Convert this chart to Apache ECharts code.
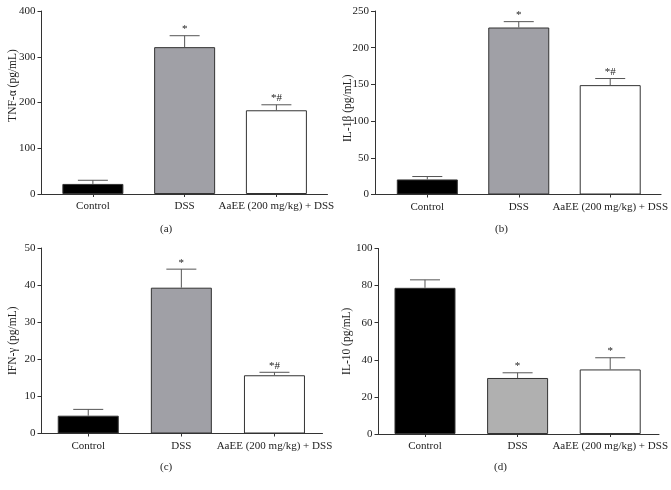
<!DOCTYPE html>
<html>
<head>
<meta charset="utf-8">
<script src="https://cdn.jsdelivr.net/npm/echarts@6/dist/echarts.min.js"></script>
<style>
html,body{margin:0;padding:0;background:#fff;}
#chart{width:671px;height:490px;}
</style>
</head>
<body>
<div id="chart"></div>
<script>
// ---- data ----
var categories = ['Control', 'DSS', 'AaEE (200 mg/kg) + DSS'];
var tnfMean = [22, 321, 183];
var tnfErr = [8, 25, 12];
var tnfMarks = ['', '*', '*#'];
var il1bMean = [20.5, 227.5, 149];
var il1bErr = [4, 8, 9];
var il1bMarks = ['', '*', '*#'];
var ifngMean = [4.8, 39.3, 15.7];
var ifngErr = [1.7, 5.0, 0.8];
var ifngMarks = ['', '*', '*#'];
var il10Mean = [78.8, 30.2, 34.8];
var il10Err = [4.3, 2.8, 6.3];
var il10Marks = ['', '*', '*'];
var yNames = ['TNF-\u03b1 (pg/mL)', 'IL-1\u03b2 (pg/mL)', 'IFN-\u03b3 (pg/mL)', 'IL-10 (pg/mL)'];
var yMax = [400, 250, 50, 100];
var yStep = [100, 50, 10, 20];
var captions = ['(a)', '(b)', '(c)', '(d)'];

// ---- style / layout ----
var FONT = 'Liberation Serif';
var AX = '#333';
var grids = [
  {left: 41.5, top: 11, width: 286, height: 183},
  {left: 375, top: 11, width: 287, height: 183.5},
  {left: 41.5, top: 248, width: 281, height: 185.5},
  {left: 378.5, top: 248.5, width: 282, height: 185.5}
];
var xRange = [[-0.56, 2.557], [-0.572, 2.556], [-0.502, 2.516], [-0.502, 2.527]];
var namePad = [[0, 0, 0, 34], [0, 11, 0, 0], [0, 0, 0, 0], [0, 0, 0, 0]];
var nameGaps = [22.5, 21, 23, 25.5];
var fillColors = [
  ['#000000', '#a0a0a6', '#ffffff'],
  ['#000000', '#a0a0a6', '#ffffff'],
  ['#000000', '#a0a0a6', '#ffffff'],
  ['#000000', '#b0b0b0', '#ffffff']
];
var capPos = [[168, 231], [503, 231], [168, 469], [502, 469]];

var panels = [
  {mean: tnfMean, err: tnfErr, marks: tnfMarks},
  {mean: il1bMean, err: il1bErr, marks: il1bMarks},
  {mean: ifngMean, err: ifngErr, marks: ifngMarks},
  {mean: il10Mean, err: il10Err, marks: il10Marks}
];

var option = {
  animation: false,
  backgroundColor: '#fff',
  grid: grids.map(function (g) { return Object.assign({containLabel: false}, g); }),
  xAxis: [], yAxis: [], series: [], graphic: []
};

panels.forEach(function (p, i) {
  option.xAxis.push({
    type: 'value', gridIndex: i, min: xRange[i][0], max: xRange[i][1],
    axisLine: {show: true, onZero: false, lineStyle: {color: AX, width: 1}},
    axisTick: {show: true, length: 3, inside: false, customValues: [0, 1, 2], lineStyle: {color: AX}},
    axisLabel: {
      show: true, customValues: [0, 1, 2], margin: 7,
      fontFamily: FONT, fontSize: 11, color: '#222',
      formatter: function (v) { return categories[Math.round(v)] || ''; }
    },
    splitLine: {show: false}
  });
  option.yAxis.push({
    type: 'value', gridIndex: i, min: 0, max: yMax[i], interval: yStep[i],
    name: yNames[i], nameLocation: 'middle', nameGap: nameGaps[i], nameMoveOverlap: false,
    nameTextStyle: {fontFamily: FONT, fontSize: 11.5, color: '#222', padding: namePad[i]},
    axisLine: {show: true, onZero: false, lineStyle: {color: AX, width: 1}},
    axisTick: {show: true, length: 4, lineStyle: {color: AX}},
    axisLabel: {fontFamily: FONT, fontSize: 11, color: '#222', margin: 6},
    splitLine: {show: false}
  });
  option.series.push({
    type: 'bar', xAxisIndex: i, yAxisIndex: i, barWidth: 61,
    data: p.mean.map(function (v, k) {
      return {value: [k, v], itemStyle: {color: fillColors[i][k], borderColor: '#333', borderWidth: 1}};
    })
  });
  option.series.push({
    type: 'custom', xAxisIndex: i, yAxisIndex: i,
    data: p.mean.map(function (v, k) { return [k, v, p.err[k]]; }),
    renderItem: function (params, api) {
      var x = api.value(0), m = api.value(1), e = api.value(2);
      var b = api.coord([x, m]);
      var t = api.coord([x, m + e]);
      var half = 15;
      var mark = p.marks[params.dataIndex];
      var children = [
        {type: 'line', shape: {x1: b[0], y1: b[1], x2: t[0], y2: t[1]}, style: {stroke: '#555', lineWidth: 1}},
        {type: 'line', shape: {x1: t[0] - half, y1: t[1], x2: t[0] + half, y2: t[1]}, style: {stroke: '#555', lineWidth: 1}}
      ];
      if (mark) {
        children.push({type: 'text', style: {text: mark, x: t[0], y: t[1] - 1, align: 'center', verticalAlign: 'bottom',
          font: '11px "' + FONT + '"', fill: '#222'}});
      }
      return {type: 'group', children: children};
    },
    z: 5
  });
  option.graphic.push({
    type: 'text', left: capPos[i][0] - 8, top: capPos[i][1] - 7,
    style: {text: captions[i], font: '11px "' + FONT + '"', fill: '#222'}
  });
});

var chart = echarts.init(document.getElementById('chart'), null, {renderer: 'canvas'});
chart.setOption(option);
</script>
</body>
</html>
